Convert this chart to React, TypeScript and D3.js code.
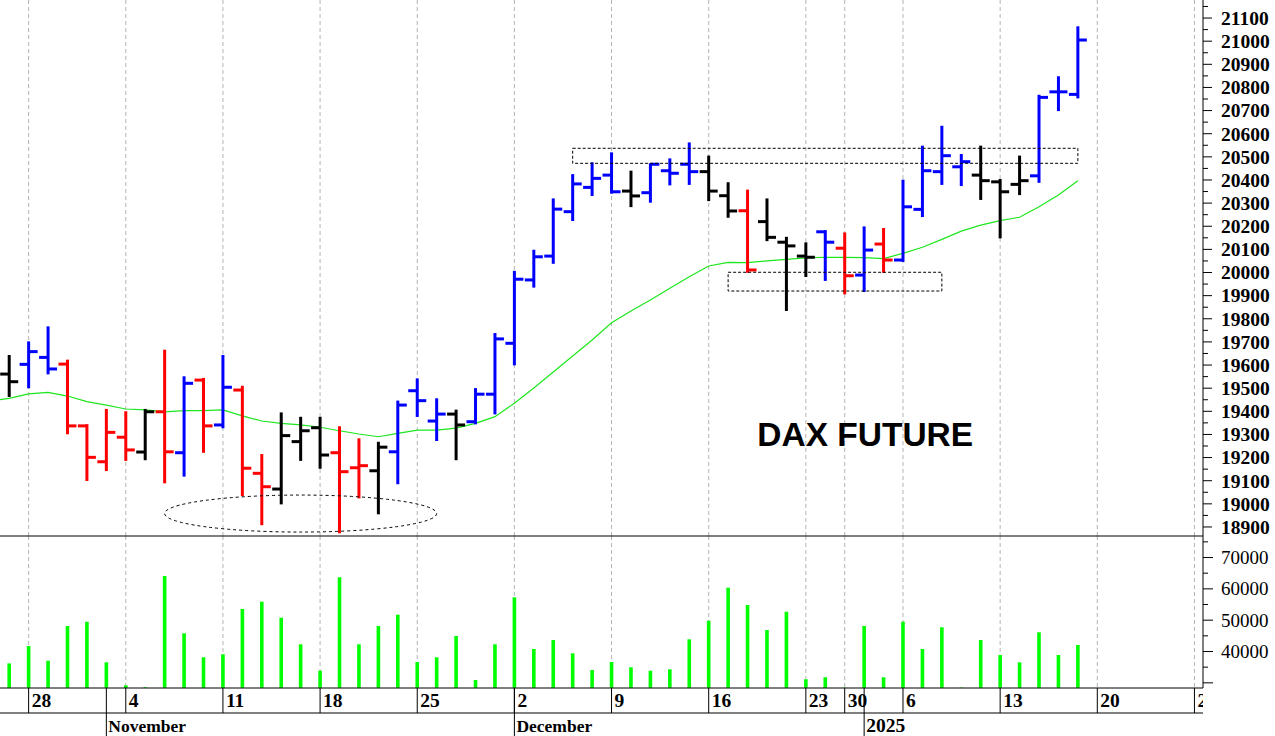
import React from "react";
import * as d3 from "d3";

// ---------- DATA ----------
const ohlcDays = [
  "2024-10-25", "2024-10-28", "2024-10-29", "2024-10-30", "2024-10-31",
  "2024-11-01", "2024-11-04", "2024-11-05", "2024-11-06", "2024-11-07", "2024-11-08",
  "2024-11-11", "2024-11-12", "2024-11-13", "2024-11-14", "2024-11-15",
  "2024-11-18", "2024-11-19", "2024-11-20", "2024-11-21", "2024-11-22",
  "2024-11-25", "2024-11-26", "2024-11-27", "2024-11-28", "2024-11-29",
  "2024-12-02", "2024-12-03", "2024-12-04", "2024-12-05", "2024-12-06",
  "2024-12-09", "2024-12-10", "2024-12-11", "2024-12-12", "2024-12-13",
  "2024-12-16", "2024-12-17", "2024-12-18", "2024-12-19", "2024-12-20",
  "2024-12-23", "2024-12-27", "2024-12-30",
  "2025-01-02", "2025-01-03", "2025-01-06", "2025-01-07", "2025-01-08", "2025-01-09", "2025-01-10",
  "2025-01-13", "2025-01-14", "2025-01-15", "2025-01-16", "2025-01-17",
];

const axisDays = [
  "2024-10-24", ...ohlcDays,
  "2025-01-20", "2025-01-21", "2025-01-22", "2025-01-23", "2025-01-24",
  "2025-01-27", "2025-01-28", "2025-01-29", "2025-01-30", "2025-01-31",
];

const opens = [19561, 19603, 19633, 19604, 19337, 19182, 19288, 19224, 19398, 19221, 19535, 19341, 19492, 19132, 19064, 19269, 19329, 19221, 19156, 19143, 19225, 19489, 19358, 19388, 19355, 19474, 19694, 19968, 20071, 20263, 20368, 20421, 20352, 20345, 20440, 20468, 20436, 20332, 20267, 20220, 20131, 20071, 20176, 20105, 19989, 20123, 20054, 20273, 20436, 20457, 20421, 20392, 20381, 20418, 20781, 20770];
const highs = [19639, 19698, 19763, 19619, 19340, 19406, 19396, 19406, 19662, 19547, 19540, 19639, 19506, 19211, 19391, 19372, 19372, 19331, 19279, 19264, 19442, 19538, 19452, 19403, 19496, 19734, 20003, 20094, 20316, 20421, 20472, 20515, 20436, 20468, 20489, 20558, 20501, 20386, 20354, 20316, 20150, 20126, 20179, 20169, 20195, 20188, 20397, 20544, 20630, 20508, 20544, 20400, 20501, 20764, 20844, 21060];
const lows = [19466, 19504, 19564, 19305, 19103, 19146, 19190, 19193, 19093, 19122, 19225, 19331, 19038, 18912, 19002, 19190, 19156, 18877, 19028, 18959, 19089, 19380, 19276, 19193, 19348, 19391, 19603, 19939, 20042, 20227, 20335, 20345, 20287, 20306, 20381, 20383, 20313, 20241, 20003, 20140, 19838, 19985, 19968, 19910, 19920, 20003, 20050, 20244, 20383, 20378, 20318, 20152, 20339, 20392, 20702, 20757];
const closes = [19528, 19658, 19583, 19337, 19201, 19309, 19233, 19398, 19225, 19521, 19337, 19504, 19154, 19074, 19295, 19316, 19211, 19139, 19165, 19245, 19427, 19446, 19388, 19341, 19474, 19713, 19971, 20068, 20274, 20383, 20407, 20349, 20331, 20468, 20429, 20436, 20352, 20266, 20011, 20152, 20115, 20066, 20131, 19986, 20097, 20054, 20284, 20440, 20505, 20479, 20397, 20349, 20397, 20757, 20781, 21005];
// 1 = up signal (blue), -1 = down signal (red), 0 = neutral (black)
const signals = [0, 1, 1, -1, -1, -1, -1, 0, -1, 1, -1, 1, -1, -1, 0, 0, 0, -1, -1, 0, 1, 1, 1, 0, 1, 1, 1, 1, 1, 1, 1, 1, 0, 1, 1, 1, 0, 0, -1, 0, 0, 0, 1, -1, 1, -1, 1, 1, 1, 1, 0, 0, 0, 1, 1, 1];
const volumes = [36200, 41760, 37060, 48140, 49510, 36550, 29210, 28570, 64100, 45810, 38150, 39110, 53570, 55900, 50790, 42300, 33870, 63690, 42300, 48140, 51750, 36650, 38150, 44950, 30900, 42300, 57300, 40800, 43670, 39430, 34100, 36650, 34960, 33870, 34320, 43890, 49830, 60370, 54840, 46860, 52700, 31130, 31770, 28450, 48140, 31770, 49510, 40800, 47730, 28450, 43670, 38880, 36550, 46130, 38880, 42080];

const maDays = ["2024-10-24", ...ohlcDays];
const maValues = [19445, 19456, 19475, 19482, 19466, 19442, 19427, 19410, 19406, 19398, 19403, 19403, 19406, 19380, 19358, 19348, 19341, 19331, 19316, 19302, 19290, 19305, 19319, 19319, 19327, 19348, 19377, 19435, 19501, 19570, 19639, 19708, 19783, 19834, 19881, 19932, 19982, 20028, 20044, 20043, 20050, 20057, 20063, 20066, 20065, 20064, 20060, 20083, 20109, 20143, 20179, 20205, 20224, 20239, 20284, 20335, 20397];

const priceLabelTicks = d3.range(18900, 21101, 100);
const priceMinorTicks = d3.range(18950, 21151, 100);
const volumeLabelTicks = [40000, 50000, 60000, 70000];
const volumeMajorTicks = [30000, 40000, 50000, 60000, 70000];
const volumeMinorTicks = [35000, 45000, 55000, 65000, 75000];

const monthNames = ["January", "February", "March", "April", "May", "June", "July", "August", "September", "October", "November", "December"];

// annotation boxes: [startDay, endDay, upperPrice, lowerPrice]
const boxStarts = ["2024-12-05", "2024-12-17"];
const boxEnds = ["2025-01-17", "2025-01-08"];
const boxTops = [20537, 20001];
const boxBottoms = [20472, 19920];
// ellipse: centre day, half-width in trading days, centre price, half-height in points
const ellipseCentreDay = "2024-11-15";
const ellipseHalfDays = 7;
const ellipseCentrePrice = 18958;
const ellipseHalfPoints = 80;

const titleText = "DAX FUTURE";

// ---------- LAYOUT ----------
const W = 1275;
const H = 736;
const AXIS_X = 1203;
const PRICE_BOTTOM = 536;
const VOL_BOTTOM = 688;
const DAY_ROW_BOTTOM = 713;

const COLORS: Record<string, string> = { "1": "#0000ff", "-1": "#ff0000", "0": "#000000" };
const SERIF = "'Liberation Serif', 'Times New Roman', serif";

export default function App() {
  const parse = d3.timeParse("%Y-%m-%d");
  const idx = new Map(axisDays.map((d, i) => [d, i] as [string, number]));
  const x = d3.scaleLinear().domain([0.5265, 62.44]).range([0, AXIS_X]);
  const y = d3.scaleLinear().domain([18861, 21178]).range([PRICE_BOTTOM, 0]);
  const yv = d3.scaleLinear().domain([28350, 76870]).range([VOL_BOTTOM, PRICE_BOTTOM]);
  const xd = (d: string) => x(idx.get(d) as number);

  const dates = axisDays.map((d) => parse(d) as Date);
  const mondays = axisDays.filter((_, i) => dates[i].getDay() === 1);
  const monthStarts = axisDays.filter((_, i) => i > 0 && dates[i].getMonth() !== dates[i - 1].getMonth());

  const maLine = d3
    .line<number>()
    .x((_, i) => xd(maDays[i]))
    .y((v) => y(v))(maValues) as string;

  const tick = 9;
  const dayWidth = x(1) - x(0);

  return (
    <svg
      width={W}
      height={H}
      viewBox={`0 0 ${W} ${H}`}
      style={{ position: "absolute", left: 0, top: 0, background: "#ffffff" }}
    >
      <defs>
        <clipPath id="clipPrice">
          <rect x={0} y={0} width={AXIS_X} height={PRICE_BOTTOM} />
        </clipPath>
        <clipPath id="clipVol">
          <rect x={0} y={PRICE_BOTTOM} width={AXIS_X} height={VOL_BOTTOM - PRICE_BOTTOM} />
        </clipPath>
        <clipPath id="clipDates">
          <rect x={0} y={VOL_BOTTOM} width={AXIS_X} height={H - VOL_BOTTOM} />
        </clipPath>
      </defs>
      <rect x={0} y={0} width={W} height={H} fill="#ffffff" />

      {/* grid */}
      <g clipPath="url(#clipPrice)">
        {mondays.map((d) => (
          <line key={"gp" + d} x1={xd(d)} x2={xd(d)} y1={0} y2={PRICE_BOTTOM} stroke="#b4b4b4" strokeWidth={1} strokeDasharray="4,3" />
        ))}
      </g>
      <g clipPath="url(#clipVol)">
        {mondays.map((d) => (
          <line key={"gv" + d} x1={xd(d)} x2={xd(d)} y1={PRICE_BOTTOM} y2={VOL_BOTTOM} stroke="#b4b4b4" strokeWidth={1} strokeDasharray="4,3" />
        ))}
      </g>

      {/* price panel */}
      <g clipPath="url(#clipPrice)">
        <path d={maLine} fill="none" stroke="#1ee61e" strokeWidth={1.2} />
        {ohlcDays.map((d, i) => {
          const cx = xd(d);
          const c = COLORS[String(signals[i])];
          return (
            <g key={"b" + d} stroke={c} strokeWidth={3} strokeLinecap="butt">
              <line x1={cx} x2={cx} y1={y(highs[i]) - 1} y2={y(lows[i]) + 1} />
              <line x1={cx - tick} x2={cx} y1={y(opens[i])} y2={y(opens[i])} />
              <line x1={cx} x2={cx + tick} y1={y(closes[i])} y2={y(closes[i])} />
            </g>
          );
        })}
        {boxStarts.map((s, i) => (
          <rect
            key={"box" + i}
            x={xd(s)}
            y={y(boxTops[i])}
            width={xd(boxEnds[i]) - xd(s)}
            height={y(boxBottoms[i]) - y(boxTops[i])}
            fill="none"
            stroke="#000"
            strokeWidth={1}
            strokeDasharray="3,2"
          />
        ))}
        <ellipse
          cx={xd(ellipseCentreDay)}
          cy={y(ellipseCentrePrice)}
          rx={ellipseHalfDays * dayWidth}
          ry={y(ellipseCentrePrice - ellipseHalfPoints) - y(ellipseCentrePrice)}
          fill="none"
          stroke="#000"
          strokeWidth={1}
          strokeDasharray="3,3"
        />
        <text
          x={x(39.5)}
          y={y(19252)}
          fontFamily="'Liberation Sans', Arial, sans-serif"
          fontWeight="bold"
          fontSize={33.5}
          fill="#000"
        >
          {titleText}
        </text>
      </g>

      {/* volume panel */}
      <g clipPath="url(#clipVol)">
        {ohlcDays.map((d, i) => (
          <rect
            key={"v" + d}
            x={xd(d) - 1.8}
            y={yv(volumes[i])}
            width={3.6}
            height={VOL_BOTTOM - yv(volumes[i])}
            fill="#00ff00"
          />
        ))}
      </g>

      {/* frame lines */}
      <line x1={0} x2={AXIS_X} y1={PRICE_BOTTOM} y2={PRICE_BOTTOM} stroke="#000" strokeWidth={1} />
      <line x1={0} x2={AXIS_X} y1={VOL_BOTTOM} y2={VOL_BOTTOM} stroke="#000" strokeWidth={1} />
      <line x1={0} x2={AXIS_X} y1={DAY_ROW_BOTTOM} y2={DAY_ROW_BOTTOM} stroke="#000" strokeWidth={1} />
      <line x1={AXIS_X} x2={AXIS_X} y1={0} y2={VOL_BOTTOM} stroke="#000" strokeWidth={1} />

      {/* price axis */}
      {priceMinorTicks.map((p) => (
        <line key={"pm" + p} x1={AXIS_X} x2={AXIS_X + 5} y1={y(p)} y2={y(p)} stroke="#000" strokeWidth={1} />
      ))}
      {priceLabelTicks.map((p) => (
        <g key={"pl" + p}>
          <line x1={AXIS_X} x2={AXIS_X + 9} y1={y(p)} y2={y(p)} stroke="#000" strokeWidth={1} />
          <text x={1221} y={y(p)} dy="0.35em" fontFamily={SERIF} fontWeight="bold" fontSize={19.5} fill="#000">
            {p}
          </text>
        </g>
      ))}

      {/* volume axis */}
      {volumeMinorTicks.map((v) => (
        <line key={"vm" + v} x1={AXIS_X} x2={AXIS_X + 5} y1={yv(v)} y2={yv(v)} stroke="#000" strokeWidth={1} />
      ))}
      {volumeMajorTicks.map((v) => (
        <line key={"vM" + v} x1={AXIS_X} x2={AXIS_X + 10} y1={yv(v)} y2={yv(v)} stroke="#000" strokeWidth={1} />
      ))}
      {volumeLabelTicks.map((v) => (
        <text key={"vl" + v} x={1221} y={yv(v)} dy="0.35em" fontFamily={SERIF} fontSize={19} fill="#000">
          {v}
        </text>
      ))}

      {/* date axis */}
      <g clipPath="url(#clipDates)">
        {mondays.map((d) => (
          <g key={"wk" + d}>
            <line x1={xd(d)} x2={xd(d)} y1={VOL_BOTTOM} y2={DAY_ROW_BOTTOM} stroke="#000" strokeWidth={1} />
            <text x={xd(d) + 3} y={706.5} fontFamily={SERIF} fontWeight="bold" fontSize={19.5} fill="#000">
              {(parse(d) as Date).getDate()}
            </text>
          </g>
        ))}
        {monthStarts.map((d) => {
          const dt = parse(d) as Date;
          const label = dt.getMonth() === 0 ? String(dt.getFullYear()) : monthNames[dt.getMonth()];
          return (
            <g key={"mo" + d}>
              <line x1={xd(d)} x2={xd(d)} y1={VOL_BOTTOM} y2={H} stroke="#000" strokeWidth={1} />
              <text x={xd(d) + 2} y={731.5} fontFamily={SERIF} fontWeight="bold" fontSize={dt.getMonth() === 0 ? 19.5 : 17.5} fill="#000">
                {label}
              </text>
            </g>
          );
        })}
      </g>
    </svg>
  );
}
